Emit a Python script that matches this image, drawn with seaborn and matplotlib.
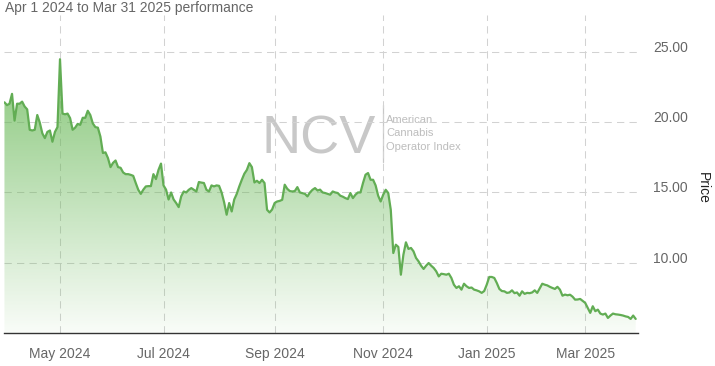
import numpy as np
import pandas as pd
import matplotlib
matplotlib.use("Agg")
import matplotlib.pyplot as plt
import seaborn as sns
from matplotlib.transforms import ScaledTranslation
from matplotlib.path import Path
from matplotlib.patches import PathPatch

# ---- data (one value per trading session, Apr 1 2024 .. Mar 31 2025) ----
price = [
    21.4, 21.2, 21.3, 22.0, 20.1, 21.3, 21.3, 21.45, 21.1, 20.9,
    19.45, 19.4, 19.45, 20.5, 19.96, 19.2, 18.86, 19.3, 19.4, 18.6,
    19.3, 19.64, 24.46, 20.6, 20.55, 20.6, 20.28, 19.45, 19.6, 19.87,
    19.8, 20.3, 20.3, 20.8, 20.5, 19.9, 19.64, 19.6, 18.97, 17.8,
    17.85, 17.44, 16.8, 17.1, 17.27, 16.8, 16.75, 16.42, 16.3, 16.3,
    16.25, 16.18, 15.67, 15.19, 14.9, 15.2, 15.43, 15.45, 15.45, 16.3,
    15.95, 16.6, 17.05, 15.5, 15.2, 14.5, 15.0, 14.5, 14.25, 13.96,
    14.72, 15.07, 15.0, 15.19, 15.31, 15.19, 15.07, 15.74, 15.7, 15.67,
    15.19, 15.07, 15.5, 15.43, 15.5, 15.47, 15.0, 14.3, 13.42, 14.25,
    13.65, 14.5, 14.9, 15.43, 15.9, 16.33, 16.6, 17.08, 16.8, 15.71,
    15.83, 15.67, 15.9, 15.67, 13.77, 13.58, 13.79, 14.25, 14.36, 14.4,
    14.48, 15.55, 15.26, 15.1, 15.07, 15.1, 15.38, 15.0, 14.95, 14.9,
    14.72, 15.0, 15.19, 15.31, 15.14, 15.2, 15.0, 14.96, 14.9, 14.84,
    15.07, 15.0, 14.96, 14.77, 14.7, 14.6, 14.53, 14.96, 14.6, 14.84,
    15.0, 15.0, 15.67, 16.26, 16.38, 15.9, 15.9, 15.5, 14.77, 14.36,
    14.84, 15.19, 14.96, 13.77, 10.7, 11.29, 11.13, 9.16, 10.58, 11.46,
    10.99, 11.06, 10.82, 10.35, 10.11, 9.8, 9.57, 9.8, 9.99, 9.8,
    9.64, 9.4, 9.04, 9.23, 9.2, 9.16, 9.23, 8.93, 8.45, 8.22,
    8.34, 8.1, 8.52, 8.34, 8.22, 8.25, 8.1, 8.05, 7.98, 7.87,
    8.0, 8.45, 9.0, 9.0, 8.93, 8.57, 8.15, 8.0, 7.98, 7.87,
    7.9, 8.05, 7.85, 7.9, 7.67, 7.98, 7.8, 7.87, 7.85, 7.9,
    8.05, 7.87, 8.2, 8.52, 8.45, 8.4, 8.3, 8.22, 8.15, 8.3,
    8.1, 7.67, 7.75, 7.7, 7.74, 7.6, 7.39, 7.4, 7.44, 7.3,
    7.16, 6.8, 6.45, 6.92, 6.57, 6.68, 6.4, 6.33, 6.4, 6.09,
    6.26, 6.4, 6.35, 6.33, 6.3, 6.26, 6.2, 6.16, 6.02, 6.26,
    6.02,
]
session = list(range(len(price)))

tick_sessions = [22, 63, 107, 150, 191, 230]   # first session of the month
tick_labels = ["May 2024", "Jul 2024", "Sep 2024", "Nov 2024", "Jan 2025", "Mar 2025"]
y_ticks = [10, 15, 20, 25]
y_tick_labels = ["10.00", "15.00", "20.00", "25.00"]
title = "Apr 1 2024 to Mar 31 2025 performance"
y_title = "Price"
wm_big = "NCV"
wm_small = ["American", "Cannabis", "Operator Index"]

# ---- style ----
sns.set_style("white")
plt.rcParams['font.family'] = ['Liberation Sans', 'DejaVu Sans']

W, H = 715, 366
fig = plt.figure(figsize=(W / 100, H / 100), dpi=100)
fig.patch.set_facecolor("white")

ax_l, ax_r, ax_t, ax_b = 4, 638, 15, 333.3
ax = fig.add_axes([ax_l / W, 1 - ax_b / H, (ax_r - ax_l) / W, (ax_b - ax_t) / H])
ax.patch.set_alpha(0)

ymin, ymax = 5.0, 27.6
df = pd.DataFrame({"session": session, "price": price})

# gradient area fill under the line
xs = np.asarray(session, float)
ys = np.asarray(price, float)
verts = np.column_stack([np.r_[xs[0], xs, xs[-1]], np.r_[ymin, ys, ymin]])
clip = PathPatch(Path(verts), facecolor="none", edgecolor="none")
ax.add_patch(clip)
n = 256
g = np.linspace(0, 1, n).reshape(-1, 1)  # 0 at top, 1 at bottom
rgba = np.zeros((n, 1, 4))
base = np.array([0.40, 0.72, 0.33])
rgba[..., 0] = base[0]
rgba[..., 1] = base[1]
rgba[..., 2] = base[2]
rgba[..., 3] = 0.78 * (1 - g) + 0.04 * g
im = ax.imshow(rgba, extent=[xs[0], xs[-1], ymin, ys.max()], aspect="auto",
               origin="upper", zorder=1, interpolation="bilinear")
im.set_clip_path(clip)

sns.lineplot(data=df, x="session", y="price", color="#62ad54", linewidth=1.6,
             ax=ax, zorder=3)

ax.set_xlim((ax_l - 4.45) / 2.525, (ax_r - 4.45) / 2.525)
ax.set_ylim(ymin, ymax)

# grid
ax.set_xticks(tick_sessions)
ax.set_xticklabels(tick_labels)
ax.set_yticks(y_ticks)
ax.set_yticklabels(y_tick_labels)
ax.set_axisbelow(True)
ax.grid(True, color="#d2d2d2", linewidth=0.75, linestyle=(0, (7, 5)))
ax.set_xlabel("")
ax.set_ylabel("")

for s in ["top", "left", "right"]:
    ax.spines[s].set_visible(False)
ax.spines["bottom"].set_color("#333333")
ax.spines["bottom"].set_linewidth(1.0)
ax.spines["bottom"].set_zorder(4)

ax.tick_params(axis="x", length=7, width=0.9, color="#333333", pad=3,
               labelsize=10, labelcolor="#666666", direction="out")
ax.yaxis.tick_right()
ax.tick_params(axis="y", length=0, pad=11, labelsize=10, labelcolor="#666666")
off = ScaledTranslation(0, 5.5 / 100, fig.dpi_scale_trans)
for lab in ax.get_yticklabels():
    lab.set_transform(lab.get_transform() + off)

# titles
fig.text(5 / W, 1 - 8 / H, title, fontsize=10, color="#666666",
         ha="left", va="center")
fig.text(703 / W, 1 - 188 / H, y_title, fontsize=10, color="#222222",
         rotation=-90, ha="center", va="center")

# watermark
fig.text(261 / W, 1 - 153 / H, wm_big, fontsize=39, color="#c8c8c8",
         ha="left", va="baseline", zorder=-1)
fig.add_artist(plt.Line2D([383 / W, 383 / W], [1 - 105 / H, 1 - 162 / H],
                          color="#c8c8c8", linewidth=0.9, zorder=-1))
for i, t in enumerate(wm_small):
    fig.text(386 / W, 1 - (123 + 13.5 * i) / H, t, fontsize=8,
             color="#bdbdbd", ha="left", va="baseline", zorder=-1)

fig.savefig("out.png", dpi=100, facecolor="white")
